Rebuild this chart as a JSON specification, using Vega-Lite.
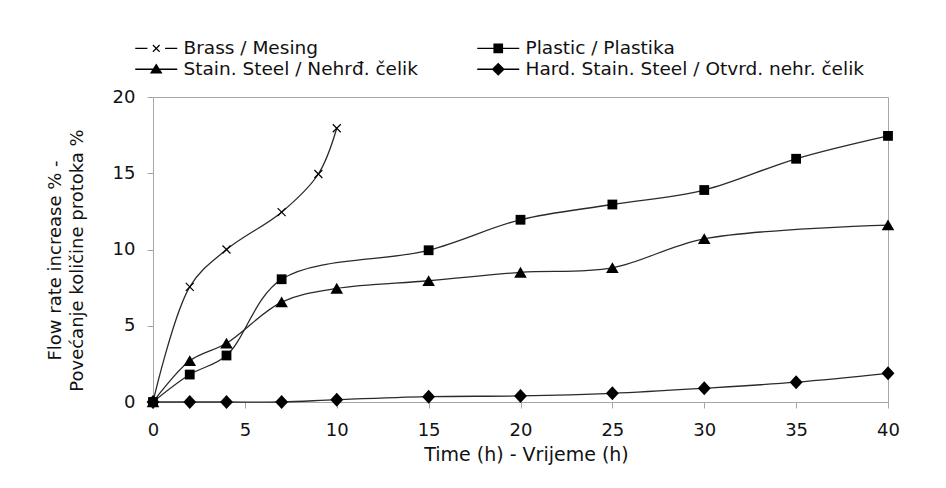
{
  "$schema": "https://vega.github.io/schema/vega-lite/v6.json",
  "width": 735,
  "height": 305,
  "autosize": "none",
  "padding": {"left": 153, "top": 97, "right": 58, "bottom": 86},
  "background": "white",
  "config": {
    "font": "DejaVu Sans",
    "view": {"stroke": "#a6a6a6", "strokeWidth": 1},
    "axis": {
      "grid": false,
      "domainColor": "#a6a6a6",
      "tickColor": "#a6a6a6",
      "tickSize": 6,
      "labelFont": "DejaVu Sans",
      "labelFontSize": 18,
      "labelColor": "#111111",
      "titleFont": "DejaVu Sans",
      "titleFontWeight": "normal",
      "titleColor": "#111111",
      "labelFlush": false,
      "labelOverlap": false
    }
  },
  "data": {
    "values": [
      {"m": "Brass / Mesing", "t": 0, "v": 0},
      {"m": "Brass / Mesing", "t": 2, "v": 7.55},
      {"m": "Brass / Mesing", "t": 4, "v": 10},
      {"m": "Brass / Mesing", "t": 7, "v": 12.45},
      {"m": "Brass / Mesing", "t": 9, "v": 14.95},
      {"m": "Brass / Mesing", "t": 10, "v": 17.95},
      {"m": "Plastic / Plastika", "t": 0, "v": 0},
      {"m": "Plastic / Plastika", "t": 2, "v": 1.8},
      {"m": "Plastic / Plastika", "t": 4, "v": 3.05},
      {"m": "Plastic / Plastika", "t": 7, "v": 8.05},
      {"m": "Plastic / Plastika", "t": 15, "v": 9.95},
      {"m": "Plastic / Plastika", "t": 20, "v": 11.95},
      {"m": "Plastic / Plastika", "t": 25, "v": 12.95},
      {"m": "Plastic / Plastika", "t": 30, "v": 13.9},
      {"m": "Plastic / Plastika", "t": 35, "v": 15.95},
      {"m": "Plastic / Plastika", "t": 40, "v": 17.45},
      {"m": "Stain. Steel / Nehrđ. čelik", "t": 0, "v": 0},
      {"m": "Stain. Steel / Nehrđ. čelik", "t": 2, "v": 2.7},
      {"m": "Stain. Steel / Nehrđ. čelik", "t": 4, "v": 3.85},
      {"m": "Stain. Steel / Nehrđ. čelik", "t": 7, "v": 6.55},
      {"m": "Stain. Steel / Nehrđ. čelik", "t": 10, "v": 7.45},
      {"m": "Stain. Steel / Nehrđ. čelik", "t": 15, "v": 7.95},
      {"m": "Stain. Steel / Nehrđ. čelik", "t": 20, "v": 8.5},
      {"m": "Stain. Steel / Nehrđ. čelik", "t": 25, "v": 8.8},
      {"m": "Stain. Steel / Nehrđ. čelik", "t": 30, "v": 10.7},
      {"m": "Stain. Steel / Nehrđ. čelik", "t": 40, "v": 11.6},
      {"m": "Hard. Stain. Steel / Otvrd. nehr. čelik", "t": 0, "v": 0},
      {"m": "Hard. Stain. Steel / Otvrd. nehr. čelik", "t": 2, "v": 0},
      {"m": "Hard. Stain. Steel / Otvrd. nehr. čelik", "t": 4, "v": 0},
      {"m": "Hard. Stain. Steel / Otvrd. nehr. čelik", "t": 7, "v": 0},
      {"m": "Hard. Stain. Steel / Otvrd. nehr. čelik", "t": 10, "v": 0.15},
      {"m": "Hard. Stain. Steel / Otvrd. nehr. čelik", "t": 15, "v": 0.35},
      {"m": "Hard. Stain. Steel / Otvrd. nehr. čelik", "t": 20, "v": 0.4},
      {"m": "Hard. Stain. Steel / Otvrd. nehr. čelik", "t": 25, "v": 0.57},
      {"m": "Hard. Stain. Steel / Otvrd. nehr. čelik", "t": 30, "v": 0.9},
      {"m": "Hard. Stain. Steel / Otvrd. nehr. čelik", "t": 35, "v": 1.3},
      {"m": "Hard. Stain. Steel / Otvrd. nehr. čelik", "t": 40, "v": 1.88}
    ]
  },
  "encoding": {
    "x": {
      "field": "t",
      "type": "quantitative",
      "scale": {"domain": [0, 40], "nice": false},
      "axis": {
        "values": [0, 5, 10, 15, 20, 25, 30, 35, 40],
        "title": "Time  (h) - Vrijeme (h)",
        "titleFontSize": 19,
        "labelPadding": 13,
        "titlePadding": 6,
        "titleX": 373
      }
    },
    "y": {
      "field": "v",
      "type": "quantitative",
      "scale": {"domain": [0, 20], "nice": false},
      "axis": {
        "values": [0, 5, 10, 15, 20],
        "title": ["Flow rate increase % -", "Povećanje količine protoka %"],
        "titleFontSize": 18,
        "titleLineHeight": 22,
        "titlePadding": 26,
        "labelPadding": 12,
        "titleY": 163
      }
    }
  },
  "layer": [
    {
      "mark": {"type": "line", "interpolate": "catmull-rom", "color": "#2a2a2a", "strokeWidth": 1.3},
      "encoding": {"detail": {"field": "m", "type": "nominal"}}
    },
    {
      "mark": {"type": "point", "filled": true, "color": "black", "size": 196, "opacity": 1, "strokeWidth": 0},
      "encoding": {
        "shape": {
          "field": "m",
          "type": "nominal",
          "scale": {
            "domain": ["Brass / Mesing", "Plastic / Plastika", "Stain. Steel / Nehrđ. čelik", "Hard. Stain. Steel / Otvrd. nehr. čelik"],
            "range": [
              "M-0.51,-0.63L-0.63,-0.51L0.51,0.63L0.63,0.51Z M0.63,-0.51L0.51,-0.63L-0.63,0.51L-0.51,0.63Z",
              "M-0.7,-0.7H0.7V0.7H-0.7Z",
              "M0,-0.8L0.9,0.75H-0.9Z",
              "M0,-1L0.92,0L0,1L-0.92,0Z"
            ]
          },
          "legend": null
        }
      }
    },
    {
      "transform": [{"filter": "datum.v < 0"}],
      "mark": {"type": "point", "filled": true, "color": "black", "size": 196, "opacity": 1, "strokeWidth": 0},
      "encoding": {
        "shape": {
          "field": "m",
          "type": "nominal",
          "scale": {
            "domain": ["Brass / Mesing", "Stain. Steel / Nehrđ. čelik", "Plastic / Plastika", "Hard. Stain. Steel / Otvrd. nehr. čelik"],
            "range": [
              "M-1,-0.105H0.74V0.105H-1Z M3.26,-0.105H5V0.105H3.26Z M1.58,-0.54L1.46,-0.42L2.42,0.54L2.54,0.42Z M2.54,-0.42L2.42,-0.54L1.46,0.42L1.58,0.54Z",
              "M-1,-0.105H5V0.105H-1Z M2,-0.81L2.9,0.6H1.1Z",
              "M-1,-0.105H5V0.105H-1Z M1.31,-0.69H2.69V0.69H1.31Z",
              "M-1,-0.105H5V0.105H-1Z M2,-0.93L2.93,0L2,0.93L1.07,0Z"
            ]
          },
          "legend": {
            "orient": "none",
            "legendX": -20,
            "legendY": -58,
            "columns": 2,
            "title": null,
            "padding": 0,
            "labelFont": "DejaVu Sans",
            "labelFontSize": 18.5,
            "labelColor": "#111111",
            "labelOffset": 32,
            "labelLimit": 600,
            "columnPadding": 57,
            "rowPadding": 2,
            "symbolSize": 196,
            "symbolStrokeWidth": 0,
            "symbolFillColor": "black",
            "symbolOpacity": 1,
            "symbolOffset": 0
          }
        }
      }
    }
  ],
  "resolve": {"scale": {"shape": "independent"}, "legend": {"shape": "independent"}}
}
